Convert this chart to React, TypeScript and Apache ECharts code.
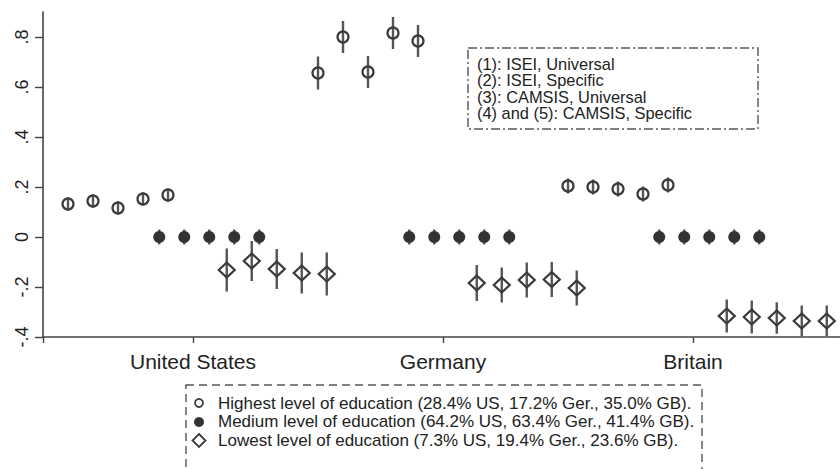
import React, { useEffect, useRef } from "react";
import * as echarts from "echarts";

// ---- data ----
const countries = ["United States", "Germany", "Britain"];
const countryPos = [1, 2, 3];
const yTicks = [-0.4, -0.2, 0, 0.2, 0.4, 0.6, 0.8];

// x offsets of the five models within each education group
const highestOffsets = [-0.5, -0.4, -0.3, -0.2, -0.1];
const mediumOffsets = [-0.135, -0.035, 0.065, 0.165, 0.265];
const lowestOffsets = [0.135, 0.235, 0.335, 0.435, 0.535];

// estimates (rows: US, Germany, Britain; columns: models 1..5)
const highestEst = [
  [0.132, 0.144, 0.116, 0.152, 0.168],
  [0.656, 0.8, 0.66, 0.816, 0.784],
  [0.204, 0.2, 0.192, 0.172, 0.208],
];
const highestCI = [
  [0.026, 0.026, 0.026, 0.026, 0.026],
  [0.066, 0.064, 0.064, 0.064, 0.064],
  [0.03, 0.03, 0.03, 0.03, 0.03],
];
const mediumEst = [
  [0, 0, 0, 0, 0],
  [0, 0, 0, 0, 0],
  [0, 0, 0, 0, 0],
];
const mediumCI = [
  [0.03, 0.03, 0.03, 0.03, 0.03],
  [0.03, 0.03, 0.03, 0.03, 0.03],
  [0.03, 0.03, 0.03, 0.03, 0.03],
];
const lowestEst = [
  [-0.132, -0.096, -0.128, -0.144, -0.148],
  [-0.184, -0.192, -0.172, -0.17, -0.204],
  [-0.316, -0.32, -0.324, -0.336, -0.336],
];
const lowestCI = [
  [0.086, 0.08, 0.08, 0.082, 0.086],
  [0.072, 0.07, 0.07, 0.07, 0.07],
  [0.066, 0.066, 0.063, 0.062, 0.062],
];

const seriesNames = [
  "Highest level of education (28.4% US, 17.2% Ger., 35.0% GB).",
  "Medium level of education (64.2% US, 63.4% Ger., 41.4% GB).",
  "Lowest level of education (7.3% US, 19.4% Ger., 23.6% GB).",
];
const modelLegend = [
  "(1): ISEI, Universal",
  "(2): ISEI, Specific",
  "(3): CAMSIS, Universal",
  "(4) and (5): CAMSIS, Specific",
];

const FONT = "'Liberation Sans', Arial, Helvetica, sans-serif";
const INK = "#3a3a3a";

function points(offsets: number[], est: number[][]) {
  const out: number[][] = [];
  countryPos.forEach((c, i) => {
    offsets.forEach((o, j) => out.push([c + o, est[i][j]]));
  });
  return out;
}
function bars(offsets: number[], est: number[][], ci: number[][]) {
  const out: number[][] = [];
  countryPos.forEach((c, i) => {
    offsets.forEach((o, j) =>
      out.push([c + o, est[i][j] - ci[i][j], est[i][j] + ci[i][j]])
    );
  });
  return out;
}

export default function App() {
  const ref = useRef<HTMLDivElement>(null);
  useEffect(() => {
    if (!ref.current) return;
    const chart = echarts.init(ref.current, null, { renderer: "svg" });

    const barData = [
      ...bars(highestOffsets, highestEst, highestCI),
      ...bars(mediumOffsets, mediumEst, mediumCI),
      ...bars(lowestOffsets, lowestEst, lowestCI),
    ];

    const fmtY = (v: number) => {
      const s = Number(v).toFixed(1);
      if (s === "0.0" || s === "-0.0") return "0";
      return s.replace(/^(-?)0\./, "$1.");
    };

    chart.setOption({
      animation: false,
      backgroundColor: "#fff",
      textStyle: { fontFamily: FONT },
      grid: { left: 43, right: 0, top: 12, bottom: 132, containLabel: false },
      xAxis: {
        type: "value",
        min: 0.4,
        max: 3.588,
        splitLine: { show: false },
        axisLine: { onZero: false, lineStyle: { color: "#444", width: 1.6 } },
        axisTick: {
          customValues: [0.4, ...countryPos],
          length: 6,
          lineStyle: { color: "#444", width: 1.4 },
        },
        axisLabel: {
          customValues: countryPos,
          formatter: (v: number) => countries[countryPos.indexOf(Math.round(v))] ?? "",
          fontSize: 21,
          color: "#222",
          margin: 14,
          fontFamily: FONT,
        },
      },
      yAxis: {
        type: "value",
        min: -0.4,
        max: 0.9,
        splitLine: { show: false },
        axisLine: { show: true, onZero: false, lineStyle: { color: "#444", width: 1.6 } },
        axisTick: {
          show: true,
          customValues: yTicks,
          length: 8,
          lineStyle: { color: "#444", width: 1.4 },
        },
        axisLabel: {
          customValues: yTicks,
          formatter: fmtY,
          rotate: 90,
          fontSize: 18,
          color: "#222",
          margin: 12,
          fontFamily: FONT,
        },
      },
      series: [
        {
          type: "custom",
          name: "ci",
          data: barData,
          encode: { x: 0, y: [1, 2] },
          silent: true,
          z: 1,
          renderItem: (params: any, api: any) => {
            const x = api.value(0);
            const p1 = api.coord([x, api.value(1)]);
            const p2 = api.coord([x, api.value(2)]);
            return {
              type: "line",
              shape: { x1: p1[0], y1: p1[1], x2: p2[0], y2: p2[1] },
              style: { stroke: "#555", lineWidth: 2.4 },
            };
          },
        },
        {
          type: "scatter",
          name: seriesNames[0],
          data: points(highestOffsets, highestEst),
          symbol: "circle",
          symbolSize: 11,
          z: 3,
          itemStyle: { color: "rgba(255,255,255,0)", borderColor: INK, borderWidth: 2.2, opacity: 1 },
        },
        {
          type: "scatter",
          name: seriesNames[1],
          data: points(mediumOffsets, mediumEst),
          symbol: "circle",
          symbolSize: 12,
          z: 3,
          itemStyle: { color: "#333", borderWidth: 0, opacity: 1 },
        },
        {
          type: "scatter",
          name: seriesNames[2],
          data: points(lowestOffsets, lowestEst),
          symbol: "diamond",
          symbolSize: [16, 15],
          z: 3,
          itemStyle: { color: "rgba(255,255,255,0)", borderColor: INK, borderWidth: 2.2, opacity: 1 },
        },
      ],
      graphic: [
        // model legend (top right)
        {
          type: "rect",
          z: 10,
          shape: { x: 468, y: 48, width: 290, height: 81 },
          style: { fill: "#fff", stroke: "#555", lineWidth: 1.4, lineDash: [9, 3, 2, 3] },
        },
        ...modelLegend.map((t, k) => ({
          type: "text",
          z: 11,
          x: 477,
          y: 63.5 + k * 16.5,
          style: {
            text: t,
            font: `16.4px ${FONT}`,
            fill: "#222",
            verticalAlign: "middle",
          },
        })),
        // education legend (bottom)
        {
          type: "rect",
          z: 10,
          shape: { x: 186, y: 385, width: 516, height: 110 },
          style: { fill: "#fff", stroke: "#555", lineWidth: 1.4, lineDash: [8, 5] },
        },
        {
          type: "circle",
          z: 11,
          shape: { cx: 199, cy: 403, r: 4 },
          style: { fill: "none", stroke: INK, lineWidth: 1.8 },
        },
        {
          type: "circle",
          z: 11,
          shape: { cx: 199, cy: 422, r: 5 },
          style: { fill: "#333" },
        },
        {
          type: "polygon",
          z: 11,
          shape: { points: [[199, 434], [205.5, 440.5], [199, 447], [192.5, 440.5]] },
          style: { fill: "none", stroke: INK, lineWidth: 1.8 },
        },
        ...seriesNames.map((t, k) => ({
          type: "text",
          z: 11,
          x: 218,
          y: 403 + k * 18.5,
          style: {
            text: t,
            font: `17px ${FONT}`,
            fill: "#222",
            verticalAlign: "middle",
          },
        })),
      ],
    });
    return () => chart.dispose();
  }, []);
  return (
    <div
      ref={ref}
      style={{ position: "fixed", left: 0, top: 0, width: 840, height: 469 }}
    />
  );
}
